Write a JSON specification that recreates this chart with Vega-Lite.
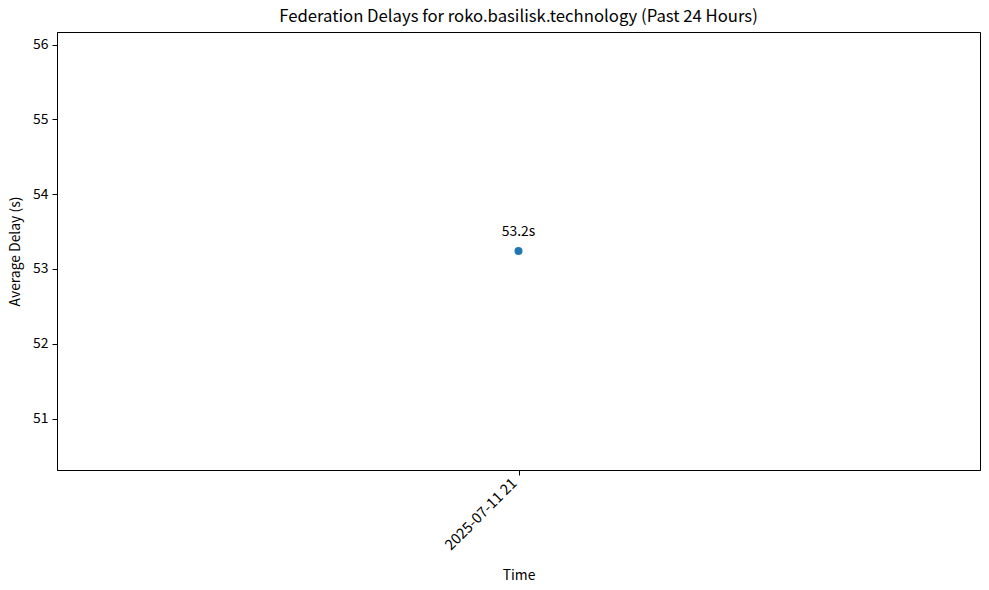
{
  "$schema": "https://vega.github.io/schema/vega-lite/v6.json",
  "width": 923,
  "height": 438,
  "autosize": {"type": "none"},
  "padding": {"left": 57, "top": 32, "right": 9, "bottom": 120},
  "background": "white",
  "config": {
    "view": {"stroke": "black", "strokeWidth": 1},
    "axis": {
      "grid": false,
      "domainColor": "black",
      "tickColor": "black",
      "tickSize": 5,
      "labelFont": "Noto Sans CJK JP",
      "labelFontSize": 13.9,
      "labelColor": "black",
      "titleFont": "Noto Sans CJK JP",
      "titleFontSize": 13.9,
      "titleFontWeight": "normal",
      "titleColor": "black",
      "labelPadding": 4
    }
  },
  "title": {
    "text": "Federation Delays for roko.basilisk.technology (Past 24 Hours)",
    "font": "Noto Sans CJK JP",
    "fontSize": 16.7,
    "fontWeight": "normal",
    "color": "black",
    "offset": 6,
    "anchor": "middle"
  },
  "data": {"values": [{"time": "2025-07-11T21:00:00", "delay": 53.24, "label": "53.2s"}]},
  "layer": [
    {
      "mark": {"type": "point", "filled": true, "size": 64, "color": "#1f77b4", "opacity": 1},
      "encoding": {
        "x": {
          "field": "time",
          "type": "temporal",
          "scale": {"domain": ["2025-07-11T20:00:00", "2025-07-11T22:00:00"]},
          "axis": {"values": ["2025-07-11T21:00:00"], "format": "%Y-%m-%d %H", "labelAngle": -45, "labelAlign": "right", "labelBaseline": "middle", "labelFontSize": 14.6, "labelOffset": -4, "labelPadding": 6, "title": "Time", "titlePadding": 16}
        },
        "y": {
          "field": "delay",
          "type": "quantitative",
          "scale": {"domain": [50.312, 56.168], "nice": false, "zero": false},
          "axis": {"values": [51, 52, 53, 54, 55, 56], "format": "d", "title": "Average Delay (s)", "titlePadding": 10}
        }
      }
    },
    {
      "mark": {"type": "text", "dy": -19, "font": "Noto Sans CJK JP", "fontSize": 13.9, "color": "black"},
      "encoding": {
        "x": {"field": "time", "type": "temporal"},
        "y": {"field": "delay", "type": "quantitative"},
        "text": {"field": "label"}
      }
    }
  ]
}
